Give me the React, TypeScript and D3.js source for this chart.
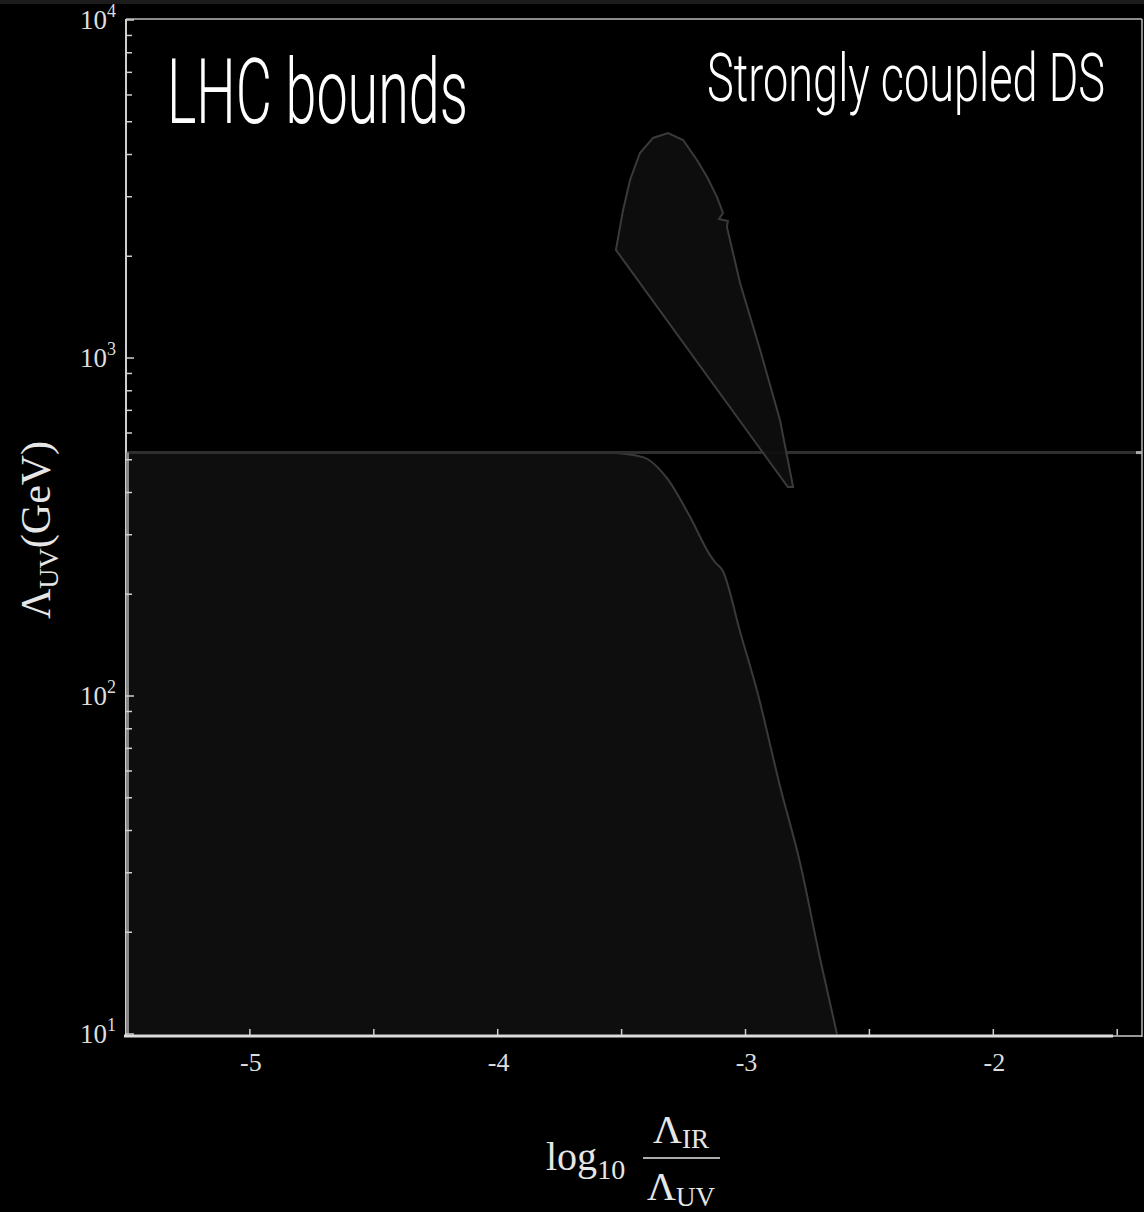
import React, { useEffect, useRef } from "react";
import * as d3 from "d3";

// axis settings
const xDomain = [-5.5, -1.4];
const yDomain = [10, 10000];
const xTickLabels = [-5, -4, -3, -2];
const xTicksAll = [-5, -4.5, -4, -3.5, -3, -2.5, -2, -1.5];
const yDecades = [1, 2, 3, 4];
const yMinor = [20, 30, 40, 50, 60, 70, 80, 90, 200, 300, 400, 500, 600, 700, 800, 900, 2000, 3000, 4000, 5000, 6000, 7000, 8000, 9000];

// LHC excluded region (upper edge), x = log10(IR/UV), y = Lambda_UV in GeV
const lhcX = [-5.5, -3.7, -3.55, -3.414, -3.317, -3.224, -3.143, -3.123, -3.091, -3.022, -2.954, -2.861, -2.78, -2.699, -2.631];
const lhcY = [527, 527, 524, 509, 441, 339, 261, 249, 234, 155, 104, 54.2, 32.1, 16.7, 10];

// strongly coupled DS region (closed outline)
const dropX = [-3.523, -3.494, -3.466, -3.426, -3.373, -3.313, -3.252, -3.196, -3.155, -3.115, -3.091, -3.107, -3.071, -3.075, -3.022, -2.941, -2.861, -2.808, -2.829];
const dropY = [2088, 2742, 3363, 4042, 4477, 4632, 4416, 3853, 3433, 2994, 2685, 2578, 2543, 2443, 1667, 1056, 656, 415, 415];

// horizontal LHC line
const hLine = 525;

const W = 1144, H = 1212;

const App = () => {
  const ref = useRef<SVGSVGElement>(null);

  useEffect(() => {
    const svg = d3.select(ref.current);
    svg.selectAll("*").remove();

    const x = d3.scaleLinear().domain(xDomain).range([126, 1142]);
    const y = d3.scaleLog().domain(yDomain).range([1034, 20]);

    svg.append("rect").attr("width", W).attr("height", H).attr("fill", "#000");
    svg.append("rect").attr("width", W).attr("height", 4).attr("fill", "#1c1c1c");

    // LHC region
    const lhc = lhcX.map((v, i) => [v, lhcY[i]]);
    const area = d3.area<number[]>()
      .x(d => x(d[0])).y0(y(10)).y1(d => y(d[1]))
      .curve(d3.curveMonotoneX);
    svg.append("path").attr("d", area(lhc)).attr("fill", "#0e0e0e");
    const edge = d3.line<number[]>().x(d => x(d[0])).y(d => y(d[1])).curve(d3.curveMonotoneX);
    svg.append("path").attr("d", edge(lhc)).attr("fill", "none")
      .attr("stroke", "#3a3a3a").attr("stroke-width", 2);

    // horizontal line
    svg.append("line")
      .attr("x1", x(xDomain[0])).attr("x2", x(xDomain[1]))
      .attr("y1", y(hLine)).attr("y2", y(hLine))
      .attr("stroke", "#2f2f2f").attr("stroke-width", 3);
    svg.append("line")
      .attr("x1", x(xDomain[1]) - 6).attr("x2", x(xDomain[1]))
      .attr("y1", y(hLine)).attr("y2", y(hLine))
      .attr("stroke", "#aaa").attr("stroke-width", 3);

    // teardrop region
    const drop = dropX.map((v, i) => [v, dropY[i]]);
    const closed = d3.line<number[]>().x(d => x(d[0])).y(d => y(d[1])).curve(d3.curveLinearClosed);
    svg.append("path").attr("d", closed(drop))
      .attr("fill", "#0e0e0e").attr("fill-opacity", 0.9)
      .attr("stroke", "#3a3a3a").attr("stroke-width", 2);

    // frame
    const axisCol = "#cfcfcf";
    svg.append("line").attr("x1", 126).attr("x2", 1142).attr("y1", 19).attr("y2", 19)
      .attr("stroke", "#bbb").attr("stroke-width", 1.5);
    svg.append("line").attr("x1", 1142).attr("x2", 1142).attr("y1", 19).attr("y2", 1037)
      .attr("stroke", "#bbb").attr("stroke-width", 1.5);
    svg.append("line").attr("x1", 126).attr("x2", 126).attr("y1", 19).attr("y2", 1037)
      .attr("stroke", axisCol).attr("stroke-width", 2);
    svg.append("line").attr("x1", 127.5).attr("x2", 127.5).attr("y1", y(hLine)).attr("y2", 1034)
      .attr("stroke", "#8a8a8a").attr("stroke-width", 3);
    svg.append("line").attr("x1", 124).attr("x2", 1113).attr("y1", 1036).attr("y2", 1036)
      .attr("stroke", "#ddd").attr("stroke-width", 3);
    svg.append("line").attr("x1", 1113).attr("x2", 1142).attr("y1", 1036).attr("y2", 1036)
      .attr("stroke", "#ccc").attr("stroke-width", 1.5);

    const serif = "'Liberation Serif', 'DejaVu Serif', serif";

    // y ticks
    const yt = svg.append("g");
    yDecades.forEach(p => {
      const v = Math.pow(10, p);
      yt.append("line").attr("x1", 126).attr("x2", 134).attr("y1", y(v)).attr("y2", y(v))
        .attr("stroke", axisCol).attr("stroke-width", 1.5);
      const t = yt.append("text").attr("x", 116).attr("y", y(v) + 9)
        .attr("text-anchor", "end").attr("fill", "#ddd")
        .attr("font-family", serif).attr("font-size", 27);
      t.append("tspan").text("10");
      t.append("tspan").attr("dy", -12).attr("font-size", 18).text(String(p));
    });
    yMinor.forEach(v => {
      yt.append("line").attr("x1", 126).attr("x2", 132).attr("y1", y(v)).attr("y2", y(v))
        .attr("stroke", axisCol).attr("stroke-width", 1.5);
    });

    // x ticks
    const xt = svg.append("g");
    xTicksAll.forEach(v => {
      xt.append("line").attr("x1", x(v)).attr("x2", x(v)).attr("y1", 1035).attr("y2", 1029)
        .attr("stroke", axisCol).attr("stroke-width", 1.5);
    });
    xTickLabels.forEach(v => {
      xt.append("text").attr("x", x(v) + 1).attr("y", 1071).attr("text-anchor", "middle")
        .attr("fill", "#ddd").attr("font-family", serif)
        .attr("font-size", 26).text(String(v));
    });

    // y axis label
    const yl = svg.append("text").attr("transform", "translate(50,530) rotate(-90)")
      .attr("text-anchor", "middle").attr("fill", "#e6e6e6")
      .attr("font-family", serif).attr("font-size", 42);
    yl.append("tspan").text("\u039B");
    yl.append("tspan").attr("font-size", 28).attr("dy", 8).text("UV");
    yl.append("tspan").attr("dy", -8).text("(GeV)");

    // x axis label
    const lab = svg.append("g").attr("fill", "#e6e6e6").attr("font-family", serif);
    const lg = lab.append("text").attr("x", 546).attr("y", 1170).attr("font-size", 40);
    lg.append("tspan").text("log");
    lg.append("tspan").attr("font-size", 28).attr("dy", 9).text("10");
    const num = lab.append("text").attr("x", 681).attr("y", 1143).attr("text-anchor", "middle").attr("font-size", 40);
    num.append("tspan").text("\u039B");
    num.append("tspan").attr("font-size", 27).attr("dy", 5).text("IR");
    lab.append("line").attr("x1", 643).attr("x2", 720).attr("y1", 1158).attr("y2", 1158)
      .attr("stroke", "#e6e6e6").attr("stroke-width", 1.5);
    const den = lab.append("text").attr("x", 681).attr("y", 1200).attr("text-anchor", "middle").attr("font-size", 40);
    den.append("tspan").text("\u039B");
    den.append("tspan").attr("font-size", 27).attr("dy", 6).text("UV");

    // titles, squeezed horizontally to the narrow look of the original
    const tf = "Roboto, 'DejaVu Sans Condensed', sans-serif";
    const title = (label: string, tx: number, ty: number, size: number, width: number) => {
      const t = svg.append("text").attr("x", 0).attr("y", 0).attr("fill", "#fff")
        .attr("font-family", tf).attr("font-weight", 300).attr("font-size", size).text(label);
      const node = t.node() as SVGTextElement;
      const len = node.getComputedTextLength() || width;
      t.attr("transform", `translate(${tx},${ty}) scale(${width / len},1)`);
    };
    title("LHC bounds", 167, 123, 91, 301);
    title("Strongly coupled DS", 707, 101, 67, 398);
  }, []);

  return (
    <svg ref={ref} width={W} height={H}
      style={{ position: "absolute", left: 0, top: 0, display: "block", background: "#000" }} />
  );
};

export default App;
